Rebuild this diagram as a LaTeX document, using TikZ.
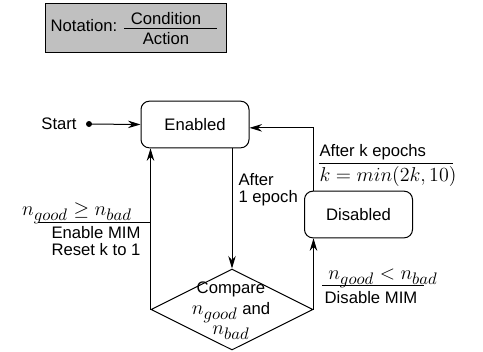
\documentclass[tikz,border=0pt]{standalone}
\usepackage{fontspec}
\setmainfont{Liberation Sans}
\usetikzlibrary{arrows.meta,shapes.geometric}
\definecolor{grigio}{HTML}{C0C0C0}
\DeclareMathSizes{13}{13}{10.4}{8}
\newcommand{\mth}[1]{{\fontsize{13}{13}\selectfont$#1$}}

\begin{document}
\begin{tikzpicture}[x=0.6pt, y=-0.6pt, line width=0.6pt,
  state/.style={draw, rounded corners=5pt, minimum width=64.8pt, minimum height=28pt},
  arr/.style={-{Stealth[length=7.5pt,width=4.5pt]}},
  lbl/.style={inner sep=0pt},
  twolines/.style={align=center, inner sep=0pt, font=\fontsize{10}{10}\selectfont}]
  \useasboundingbox (0,0) rectangle (483,351);
  % Notation box
  \node[draw, fill=grigio, minimum width=108.6pt, minimum height=29.4pt] (note) at (135.5,27.5) {};
  \node[lbl] (notation) at (84,26) {Notation:};
  \node[lbl] (cond) at (166,19) {Condition};
  \coordinate (nl) at (124,28);
  \coordinate (nr) at (217,28);
  \draw (nl) -- (nr);
  \node[lbl] (act) at (166,39) {Action};
  % States
  \node[state] (en) at (195,124.5) {Enabled};
  \node[state] (dis) at (358.5,214.5) {Disabled};
  \node[draw, diamond, aspect=2, minimum width=97.2pt, minimum height=48.6pt, inner sep=0pt] (cmp) at (232,309.5) {};
  \node[twolines, font=\fontsize{10}{12.3}\selectfont] (cmptxt) at (231,311) {Compare\\\mth{n_{good}} and\\\mth{n_{bad}}};
  % Start
  \node[lbl] (start) at (59,124) {Start};
  \coordinate (dot) at (89,124);
  \fill (dot) circle (1.8pt);
  \draw[arr] (dot) -- (en.west);
  % Enabled -> Compare
  \draw[arr] (en.south -| cmp.north) -- (cmp.north);
  \node[twolines, align=left, anchor=west] (ep1) at (238,190) {After\\1 epoch};
  % Compare -> Enabled
  \draw[arr] (cmp.west) -- (cmp.west |- en.south);
  \node[lbl] (condL) at (77,213) {\mth{n_{good} \geq n_{bad}}};
  \coordinate (fl) at (38,222);
  \draw (fl) -- (fl -| cmp.west);
  \node[twolines] (actL) at (96,241) {Enable MIM\\Reset k to 1};
  % Compare -> Disabled
  \draw[arr] (cmp.east) -- (cmp.east |- dis.south);
  \node[lbl] (condR) at (383,278) {\mth{n_{good} < n_{bad}}};
  \coordinate (frl) at (322,285);
  \coordinate (frr) at (424,285);
  \draw (frl) -- (frr);
  \node[lbl] (actR) at (371,298) {Disable MIM};
  % Disabled -> Enabled
  \draw[arr] (cmp.east |- dis.north) |- ([yshift=-2pt]en.east);
  \node[lbl, anchor=west] (condT) at (319,152) {After k epochs};
  \coordinate (ftl) at (319,163);
  \coordinate (ftr) at (453,163);
  \draw (ftl) -- (ftr);
  \node[lbl, anchor=west] (actT) at (319,176) {\mth{k = min(2k, 10)}};
\end{tikzpicture}
\end{document}
